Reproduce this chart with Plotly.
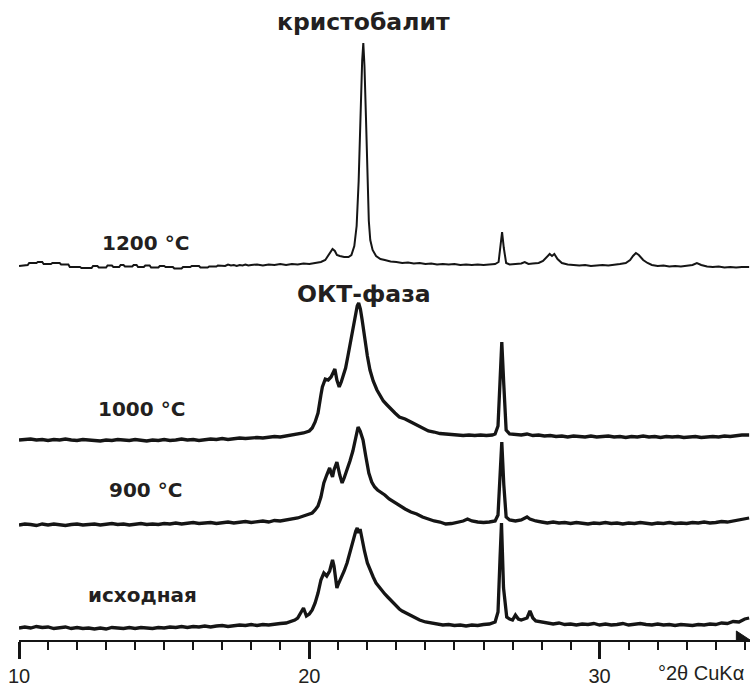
import plotly.graph_objects as go

# ---- data: (2theta, relative intensity) ----
SCAN_INIT = [
    (10.0, 0), (10.2, 1), (10.4, 0), (10.6, 1.5), (10.8, 0.5), (11.0, 1), (11.2, -0.5), (11.4, 0.5),
    (11.6, 1), (11.8, -0.5), (12.0, 0.5), (12.2, -0.5), (12.4, 0), (12.6, -1), (12.8, 0), (13.0, -1),
    (13.2, 0.5), (13.4, 0), (13.6, -0.5), (13.8, 0.5), (14.0, -0.5), (14.2, 0.5), (14.4, 0), (14.6, -0.5),
    (14.8, 0.5), (15.0, 0), (15.2, 1), (15.4, 0.5), (15.6, 1.5), (15.8, 0.5), (16.0, 1.5), (16.2, 1),
    (16.4, 2), (16.6, 1), (16.8, 2), (17.0, 2.5), (17.2, 1.5), (17.4, 2.5), (17.6, 3), (17.8, 2.5),
    (18.0, 3.5), (18.2, 2.5), (18.4, 3.5), (18.6, 3), (18.8, 4), (19.0, 4.5), (19.2, 5), (19.4, 6.5),
    (19.5, 8), (19.6, 10), (19.7, 15), (19.8, 20), (19.9, 12), (20.0, 14), (20.1, 18), (20.2, 25),
    (20.3, 35), (20.4, 48), (20.5, 55), (20.6, 52), (20.7, 57), (20.8, 68), (20.85, 62), (20.9, 48),
    (20.95, 40), (21.0, 44), (21.1, 50), (21.2, 57), (21.3, 65), (21.4, 76), (21.5, 87), (21.6, 97),
    (21.65, 100), (21.7, 95), (21.75, 99), (21.8, 91), (21.9, 77), (22.0, 65), (22.1, 57), (22.2, 51),
    (22.3, 45), (22.4, 41), (22.5, 37), (22.6, 34), (22.7, 31), (22.8, 28), (22.9, 25), (23.0, 21),
    (23.1, 19), (23.2, 17), (23.4, 14), (23.6, 11), (23.8, 8), (24.0, 6), (24.2, 5), (24.4, 4),
    (24.6, 3), (24.8, 3.5), (25.0, 2.5), (25.2, 3), (25.4, 2), (25.6, 3), (25.8, 2.5), (26.0, 3.5),
    (26.2, 4), (26.4, 6), (26.5, 16), (26.57, 70), (26.62, 105), (26.69, 40), (26.8, 11), (26.9, 9),
    (27.0, 8), (27.1, 13), (27.2, 9), (27.3, 8), (27.4, 9), (27.5, 10), (27.6, 17), (27.7, 10),
    (27.8, 7), (28.0, 6), (28.2, 5), (28.4, 4), (28.6, 5), (28.8, 3.5), (29.0, 4), (29.2, 3),
    (29.4, 4), (29.6, 3.5), (29.8, 4.5), (30.0, 3), (30.2, 4), (30.4, 3), (30.6, 3.5), (30.8, 4.5),
    (31.0, 3), (31.2, 3.5), (31.4, 4.5), (31.6, 3.5), (31.8, 3), (32.0, 4), (32.2, 3), (32.4, 3.5),
    (32.6, 2.5), (32.8, 3.5), (33.0, 3), (33.2, 2.5), (33.4, 3.5), (33.6, 3), (33.8, 4), (34.0, 3.5),
    (34.2, 5), (34.4, 4.5), (34.6, 6.5), (34.8, 6), (35.0, 9), (35.15, 10),
]

SCAN_900 = [
    (10.0, 0), (10.2, 1), (10.4, 0.5), (10.6, -0.5), (10.8, 1), (11.0, 0), (11.2, 1), (11.4, 0.5),
    (11.6, -0.5), (11.8, 0.5), (12.0, 1), (12.2, 0), (12.4, 0.5), (12.6, 1), (12.8, 0), (13.0, 0.5),
    (13.2, 1.5), (13.4, 0.5), (13.6, 1), (13.8, 0), (14.0, 1), (14.2, 1.5), (14.4, 0.5), (14.6, 1),
    (14.8, 0.5), (15.0, 1.5), (15.2, 1), (15.4, 2), (15.6, 1), (15.8, 1.5), (16.0, 2.5), (16.2, 1.5),
    (16.4, 2), (16.6, 2.5), (16.8, 1.5), (17.0, 2.5), (17.2, 3), (17.4, 2), (17.6, 3), (17.8, 3.5),
    (18.0, 2.5), (18.2, 3.5), (18.4, 4), (18.6, 3), (18.8, 4.5), (19.0, 4), (19.2, 5), (19.4, 5.5),
    (19.6, 7), (19.8, 9), (20.0, 11), (20.1, 12), (20.2, 15), (20.3, 19), (20.4, 28), (20.5, 42),
    (20.6, 50), (20.7, 57), (20.75, 52), (20.8, 48), (20.85, 55), (20.95, 63), (21.05, 50), (21.13, 42),
    (21.2, 47), (21.3, 55), (21.4, 64), (21.5, 74), (21.6, 88), (21.68, 98), (21.75, 94), (21.85, 85),
    (21.95, 68), (22.05, 52), (22.15, 43), (22.25, 38), (22.35, 35), (22.45, 33), (22.6, 30), (22.75, 26),
    (22.9, 23), (23.1, 19), (23.3, 16), (23.5, 13), (23.7, 11), (23.9, 8), (24.1, 6), (24.3, 4),
    (24.5, 3), (24.7, 1), (24.9, 1.5), (25.1, 2.5), (25.3, 4), (25.45, 6), (25.6, 4), (25.8, 3),
    (26.0, 2.5), (26.2, 3), (26.4, 4), (26.5, 10), (26.57, 50), (26.63, 83), (26.7, 40), (26.78, 8),
    (26.9, 5), (27.1, 4), (27.3, 5), (27.5, 8), (27.6, 6), (27.8, 4), (28.0, 3), (28.2, 2),
    (28.4, 3), (28.6, 2), (28.8, 2.5), (29.0, 1.5), (29.2, 2.5), (29.4, 2), (29.6, 1), (29.8, 2),
    (30.0, 1.5), (30.2, 2.5), (30.4, 1.5), (30.6, 2), (30.8, 1), (31.0, 2), (31.2, 1.5), (31.4, 2.5),
    (31.6, 2), (31.8, 1), (32.0, 2), (32.2, 1.5), (32.4, 2.5), (32.6, 1.5), (32.8, 2), (33.0, 1.5),
    (33.2, 2.5), (33.4, 2), (33.6, 3), (33.8, 2), (34.0, 2.5), (34.2, 3.5), (34.4, 3), (34.6, 4),
    (34.8, 4.5), (35.0, 6), (35.15, 7),
]

SCAN_1000 = [
    (10.0, 0), (10.2, 0.5), (10.4, 1), (10.6, 0), (10.8, 0.5), (11.0, -0.5), (11.2, 0.5), (11.4, 0),
    (11.6, 1), (11.8, 0), (12.0, -0.5), (12.2, 0.5), (12.4, 0), (12.6, -0.5), (12.8, -1), (13.0, 0),
    (13.2, -0.5), (13.4, 0.5), (13.6, 0), (13.8, -0.5), (14.0, 0.5), (14.2, -0.5), (14.4, -1), (14.6, 0),
    (14.8, -0.5), (15.0, 0.5), (15.2, -0.5), (15.4, 0), (15.6, 1), (15.8, 0), (16.0, 0.5), (16.2, -0.5),
    (16.4, 0.5), (16.6, 1), (16.8, 0.5), (17.0, 1.5), (17.2, 0.5), (17.4, 1), (17.6, 2), (17.8, 1.5),
    (18.0, 2), (18.2, 2.5), (18.4, 2), (18.6, 3), (18.8, 3.5), (19.0, 3), (19.2, 4), (19.4, 4.5),
    (19.6, 5.5), (19.8, 7), (20.0, 9), (20.1, 12), (20.2, 18), (20.3, 27), (20.4, 45), (20.45, 53),
    (20.55, 61), (20.65, 60), (20.75, 63), (20.82, 67), (20.88, 71), (20.95, 60), (21.03, 53), (21.1, 58),
    (21.16, 63), (21.25, 72), (21.33, 84), (21.42, 97), (21.5, 110), (21.58, 124), (21.65, 134), (21.7, 137),
    (21.76, 131), (21.82, 120), (21.9, 101), (22.0, 84), (22.09, 70), (22.2, 59), (22.33, 50), (22.45, 44),
    (22.55, 39), (22.68, 35), (22.8, 31), (22.95, 27), (23.1, 23), (23.3, 21), (23.5, 18), (23.7, 15),
    (23.9, 12), (24.1, 9), (24.3, 8), (24.5, 6.5), (24.7, 6), (24.9, 5.5), (25.1, 5), (25.3, 4.5),
    (25.5, 5), (25.7, 4.5), (25.9, 5), (26.1, 4.5), (26.3, 5), (26.4, 6), (26.5, 14), (26.57, 60),
    (26.63, 98), (26.7, 55), (26.78, 10), (26.9, 6), (27.1, 5.5), (27.3, 5), (27.5, 6), (27.7, 4.5),
    (27.9, 5), (28.1, 4), (28.3, 4.5), (28.5, 3.5), (28.7, 4), (28.9, 3), (29.1, 4), (29.3, 3.5),
    (29.5, 3), (29.7, 4), (29.9, 3), (30.1, 3.5), (30.3, 4), (30.5, 3), (30.7, 3.5), (30.9, 2.5),
    (31.1, 3.5), (31.3, 3), (31.5, 4), (31.7, 3), (31.9, 3.5), (32.1, 2.5), (32.3, 3.5), (32.5, 3),
    (32.7, 3.5), (32.9, 2.5), (33.1, 3), (33.3, 3.5), (33.5, 2.5), (33.7, 3), (33.9, 3.5), (34.1, 3),
    (34.3, 4), (34.5, 3.5), (34.7, 4.5), (34.9, 5), (35.15, 5),
]

SCAN_1200 = [
    (10.0, 0), (10.2, 1), (10.3, 1), (10.35, 3), (10.6, 3), (10.65, 4), (10.8, 4), (10.85, 2),
    (11.1, 2), (11.15, 3), (11.4, 3), (11.45, 1.5), (11.7, 1.5), (11.75, -1), (12.1, -1), (12.15, -2),
    (12.5, -2), (12.55, 0), (12.7, 0), (12.75, -1.5), (13.0, -1.5), (13.05, 0.5), (13.2, 0.5), (13.25, -1),
    (13.45, -1), (13.5, 1), (13.6, 1), (13.65, -0.5), (13.9, -0.5), (13.95, 1), (14.05, 1), (14.1, -1),
    (14.3, -1), (14.35, 0.5), (14.5, 0.5), (14.55, -1.5), (14.8, -1.5), (14.85, 0), (15.0, 0), (15.05, -1),
    (15.3, -1), (15.35, -2.5), (15.6, -2.5), (15.65, -1), (15.9, -1), (15.95, 0), (16.2, 0), (16.25, -1.5),
    (16.5, -1.5), (16.55, -0.5), (16.8, -0.5), (16.85, 0.5), (17.0, 0.5), (17.1, 0), (17.2, 1.5), (17.3, 0.5),
    (17.4, 1), (17.5, 0), (17.6, 1), (17.7, 0.5), (17.8, 1.5), (17.9, 0.5), (18.0, 1), (18.2, 1.5),
    (18.4, 0.5), (18.6, 1.5), (18.8, 1), (19.0, 2), (19.2, 1), (19.4, 2), (19.6, 1.5), (19.8, 2.5),
    (20.0, 2), (20.2, 3), (20.4, 4), (20.55, 6), (20.7, 12), (20.8, 17), (20.88, 15), (20.95, 11),
    (21.05, 10), (21.2, 9), (21.35, 9), (21.45, 11), (21.55, 20), (21.63, 40), (21.7, 85), (21.76, 150),
    (21.82, 205), (21.86, 223), (21.9, 200), (21.95, 150), (22.0, 90), (22.05, 45), (22.1, 26), (22.18, 16),
    (22.3, 10), (22.45, 7), (22.6, 6), (22.8, 4.5), (23.0, 4), (23.2, 3), (23.4, 3.5), (23.6, 2.5),
    (23.8, 3), (24.0, 2), (24.2, 2.5), (24.4, 1.5), (24.6, 2), (24.8, 1.5), (25.0, 2), (25.2, 1),
    (25.4, 1.5), (25.6, 1), (25.8, 1.5), (26.0, 1), (26.2, 1.5), (26.4, 2), (26.52, 4), (26.58, 20),
    (26.64, 34), (26.7, 18), (26.78, 3), (26.9, 1.5), (27.1, 2), (27.3, 2.5), (27.42, 4), (27.55, 2),
    (27.7, 2.5), (27.9, 3), (28.05, 5), (28.2, 9), (28.28, 12), (28.36, 10), (28.44, 12), (28.55, 7),
    (28.7, 3), (28.9, 1.5), (29.1, 1), (29.3, 0.5), (29.5, 1), (29.7, 0), (29.9, 0.5), (30.1, 1),
    (30.3, 0.5), (30.5, 1), (30.7, 2), (30.9, 3), (31.05, 6), (31.15, 10), (31.25, 13), (31.35, 11),
    (31.5, 6), (31.65, 3), (31.8, 1), (32.0, 0), (32.2, 0.5), (32.4, -0.5), (32.6, 0), (32.8, -0.5),
    (33.0, 0), (33.2, 1), (33.35, 3), (33.5, 1), (33.7, -0.5), (33.9, -1), (34.1, -0.5), (34.3, -1.5),
    (34.5, -1), (34.7, -1.5), (34.9, -1), (35.15, -1),
]

SERIES_NAMES = ["исходная", "900 °C", "1000 °C", "1200 °C"]
SERIES_SCANS = [SCAN_INIT, SCAN_900, SCAN_1000, SCAN_1200]
OFFSETS = [12, 115, 200, 374]          # vertical stacking of the patterns
LINE_WIDTHS = [3.3, 3.3, 3.3, 2.0]
PHASE_LABELS = ["кристобалит", "ОКТ-фаза"]
TICK_VALUES = [10, 20, 30]
TICK_TEXT = ["10", "20", "30"]
AXIS_TITLE = "°2θ CuKα"

INK = "#151515"
TEXT = "#231f20"
FONT = "Liberation Sans, Arial, sans-serif"
BOLD_FONT = "DejaVu Sans, Liberation Sans, Arial, sans-serif"

fig = go.Figure()
for name, scan, off, lw in zip(SERIES_NAMES, SERIES_SCANS, OFFSETS, LINE_WIDTHS):
    xs = [p[0] for p in scan]
    ys = [p[1] + off for p in scan]
    fig.add_trace(go.Scatter(x=xs, y=ys, mode="lines", name=name,
                             line=dict(color=INK, width=lw), showlegend=False,
                             hoverinfo="skip"))

XMAX = 35.18
label_pos = [(14.27, 45), (14.36, 150), (14.22, 231), (14.36, 397)]
annotations = []
for name, (lx, ly) in zip(SERIES_NAMES, label_pos):
    annotations.append(dict(x=lx, y=ly, xref="x", yref="y", text="<b>" + name + "</b>",
                            showarrow=False, font=dict(family=BOLD_FONT, size=20, color=TEXT)))
annotations.append(dict(x=21.85, y=618, xref="x", yref="y", text="<b>" + PHASE_LABELS[0] + "</b>",
                        showarrow=False, font=dict(family=BOLD_FONT, size=23.5, color=TEXT)))
annotations.append(dict(x=21.88, y=346, xref="x", yref="y", text="<b>" + PHASE_LABELS[1] + "</b>",
                        showarrow=False, font=dict(family=BOLD_FONT, size=23.5, color=TEXT)))
annotations.append(dict(x=33.5, y=-33 / 640, xref="x", yref="paper", xanchor="center",
                        yanchor="middle", text=AXIS_TITLE,
                        showarrow=False, font=dict(family=FONT, size=20, color=TEXT)))

fig.update_layout(
    width=750, height=687,
    margin=dict(l=19, r=0, t=0, b=47, autoexpand=False),
    paper_bgcolor="white", plot_bgcolor="white",
    showlegend=False,
    xaxis=dict(range=[10, XMAX], showgrid=False, zeroline=False, automargin=False,
               showline=True, linecolor=INK, linewidth=2,
               ticks="outside", tickvals=TICK_VALUES, ticktext=TICK_TEXT,
               ticklen=17, tickwidth=3, tickcolor=INK,
               minor=dict(dtick=1, ticks="outside", ticklen=8, tickwidth=2, tickcolor=INK),
               tickfont=dict(family=FONT, size=20, color=TEXT),
               ticklabelstandoff=0, fixedrange=True),
    yaxis=dict(range=[0, 640], visible=False, fixedrange=True, automargin=False),
    annotations=annotations,
    shapes=[dict(type="path", xref="x", yref="y",
                 path=f"M {XMAX - 0.47} 9 L {XMAX} 0 L {XMAX - 0.47} -3 Z",
                 fillcolor=INK, line=dict(color=INK, width=1))],
)

fig.write_html("out.html", config={"displayModeBar": False},
               post_script="document.body.style.margin='0px';document.body.style.overflow='hidden';")
